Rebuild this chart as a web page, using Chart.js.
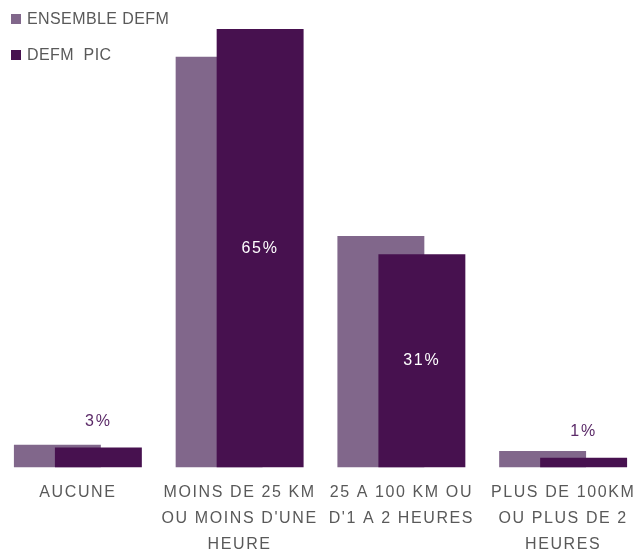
<!DOCTYPE html>
<html>
<head>
<meta charset="utf-8">
<script src="https://cdn.jsdelivr.net/npm/chart.js@4"></script>
<style>
    html, body { margin: 0; padding: 0; background: #fff; overflow: hidden; }
    body { width: 633px; height: 554px; position: relative; }
    .chart-wrap { position: absolute; left: -3px; top: 0; width: 647px; height: 575px; }
    .legend { position: absolute; left: 11px; top: 0; font: 16px "Liberation Sans", Arial, sans-serif; color: #595959; letter-spacing: 0.4px; }
    .legend div { position: absolute; white-space: pre; display: flex; align-items: center; height: 20px; }
    .legend span.box { display: inline-block; width: 10px; height: 10px; margin-right: 6px; }
</style>
</head>
<body>
<div class="chart-wrap"><canvas id="chart"></canvas></div>
<div class="legend" id="legend"></div>
<script>

const categories = [
    [ 'AUCUNE' ],
    [ 'MOINS DE 25 KM', 'OU MOINS D\'UNE', 'HEURE' ],
    [ '25 A 100 KM OU', 'D\'1 A 2 HEURES' ],
    [ 'PLUS DE 100KM', 'OU PLUS DE 2', 'HEURES' ]
];

const seriesNames = [ 'ENSEMBLE DEFM', 'DEFM  PIC' ];
const ensembleDefm = [ 3.3, 60.5, 34.1, 2.4 ];
const defmPic = [ 2.9, 64.6, 31.4, 1.4 ];

const colors = [ '#81678b', '#47114f' ];

// the right-hand bar overlaps the left one and must be painted over it
const paintInIndexOrder = {
    id: 'paintInIndexOrder',
    beforeDatasetsDraw ( chart ) {
        chart.getSortedVisibleDatasetMetas().slice()
            .sort( ( a, b ) => a.index - b.index )
            .forEach( meta => meta.controller.draw() );
        return false;
    }
};

const valueLabels = {
    id: 'valueLabels',
    afterDraw ( chart ) {
        const ctx = chart.ctx;
        const meta = chart.getDatasetMeta( 1 );
        ctx.save();
        ctx.font = '16px "Liberation Sans", Arial, sans-serif';
        ctx.letterSpacing = '1.8px';
        ctx.textAlign = 'center';
        ctx.textBaseline = 'middle';
        meta.data.forEach( ( bar, i ) => {
            const v = defmPic[ i ];
            const text = Math.round( v ) + '%';
            if ( v > 10 ) {
                ctx.fillStyle = '#ffffff';
                ctx.fillText( text, bar.x, ( bar.y + bar.base ) / 2 );
            } else {
                ctx.fillStyle = '#5b2a68';
                ctx.fillText( text, bar.x, bar.y - 26 );
            }
        } );
        ctx.restore();
    }
};

const tickSpacing = {
    id: 'tickSpacing',
    beforeDraw ( chart ) { chart.ctx.letterSpacing = '1.6px'; }
};

document.getElementById( 'legend' ).innerHTML = seriesNames.map( ( name, i ) =>
    `<div style="top:${ 9 + i * 36 }px"><span class="box" style="background:${ colors[ i ] }"></span>${ name }</div>`
).join( '' );

new Chart( document.getElementById( 'chart' ), {
    type: 'bar',
    data: {
        labels: categories,
        datasets: [ {
            label: seriesNames[ 0 ],
            data: ensembleDefm,
            backgroundColor: colors[ 0 ],
            borderWidth: 0
        }, {
            label: seriesNames[ 1 ],
            data: defmPic,
            backgroundColor: colors[ 1 ],
            borderWidth: 0
        } ]
    },
    options: {
        responsive: true,
        maintainAspectRatio: false,
        animation: false,
        categoryPercentage: 0.507,
        barPercentage: 2.12,
        layout: { padding: { top: 6, bottom: 5, left: 0, right: 0 } },
        plugins: {
            legend: { display: false },
            tooltip: { enabled: false }
        },
        scales: {
            x: {
                grid: { display: false, drawTicks: false },
                border: { display: false },
                ticks: {
                    padding: 13,
                    maxRotation: 0,
                    autoSkip: false,
                    color: '#595959',
                    font: { family: '"Liberation Sans", Arial, sans-serif', size: 16, lineHeight: 1.6 }
                }
            },
            y: {
                display: false,
                min: 0,
                max: 68
            }
        }
    },
    plugins: [ tickSpacing, paintInIndexOrder, valueLabels ]
} );

</script>
</body>
</html>
